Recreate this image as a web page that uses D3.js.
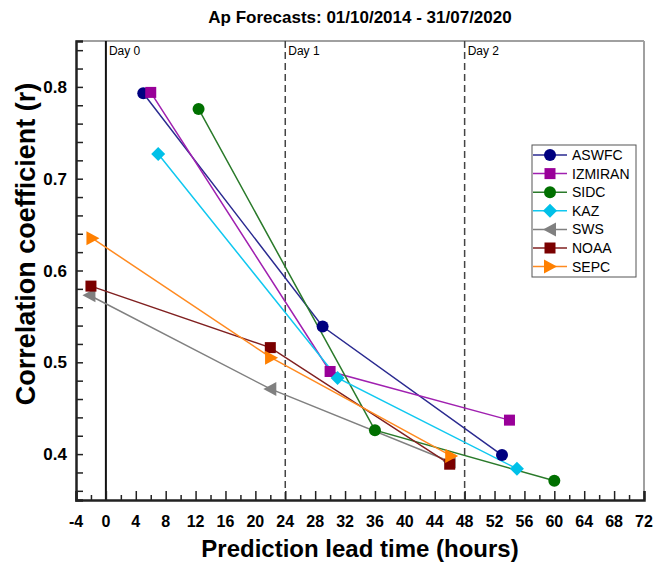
<!DOCTYPE html>
<html>
<head>
<meta charset="utf-8">
<script src="https://cdn.jsdelivr.net/npm/d3@7"></script>
<style>
  body { margin: 0; background: #fff; }
  text { font-family: Arial, "Liberation Sans", sans-serif; }
</style>
</head>
<body>
<script>
// lead times (hours) and correlation values
let names = ["ASWFC", "IZMIRAN", "SIDC", "KAZ", "SWS", "NOAA", "SEPC"]
let leadAswfc = [5, 29, 53]
let rAswfc = [0.793, 0.539, 0.399]
let leadIzmiran = [6, 30, 54]
let rIzmiran = [0.794, 0.490, 0.437]
let leadSidc = [12.4, 36, 60]
let rSidc = [0.776, 0.426, 0.371]
let leadKaz = [7, 31, 55]
let rKaz = [0.727, 0.483, 0.384]
let leadSws = [-2.2, 22, 46]
let rSws = [0.573, 0.471, 0.392]
let leadNoaa = [-2, 22, 46]
let rNoaa = [0.583, 0.516, 0.389]
let leadSepc = [-1.8, 22.1, 46.2]
let rSepc = [0.635, 0.505, 0.398]

let xTicks = d3.range(-4, 73, 4)
let yTicks = [0.4, 0.5, 0.6, 0.7, 0.8]
let dayLines = [0, 24, 48]
let dayLabels = ["Day 0", "Day 1", "Day 2"]

let colors = ["#000080", "#990099", "#007000", "#00c0e8", "#808080", "#7a0000", "#ff8000"]
let lineColors = ["#2a2a90", "#a020b0", "#2a7a2a", "#10c8f0", "#808080", "#802020", "#ff8a20"]
let shapes = ["circle", "square", "circle", "diamond", "left", "square", "right"]

let leads = [leadAswfc, leadIzmiran, leadSidc, leadKaz, leadSws, leadNoaa, leadSepc]
let rs = [rAswfc, rIzmiran, rSidc, rKaz, rSws, rNoaa, rSepc]

let series = names.map((n, i) => ({
    name: n,
    color: colors[i],
    lineColor: lineColors[i],
    shape: shapes[i],
    points: leads[i].map((h, j) => ({ h: h, r: rs[i][j] }))
}))

let width = 656, height = 564
let margin = { top: 41, right: 12, bottom: 64, left: 76 }

let svg = d3.select("body")
    .append("svg")
    .attr("width", width)
    .attr("height", height)

let x = d3.scaleLinear()
    .domain([-4, 72])
    .range([margin.left, width - margin.right])

let y = d3.scaleLinear()
    .domain([0.35, 0.85])
    .range([height - margin.bottom, margin.top])

// frame: top and right in gray
svg.append("line")
    .attr("x1", x(-4)).attr("x2", x(72))
    .attr("y1", y(0.85)).attr("y2", y(0.85))
    .attr("stroke", "#a0a0a0").attr("stroke-width", 2)
svg.append("line")
    .attr("x1", x(72)).attr("x2", x(72))
    .attr("y1", y(0.85)).attr("y2", y(0.35))
    .attr("stroke", "#a0a0a0").attr("stroke-width", 2)

// day marker lines
svg.selectAll(".day")
    .data(dayLines)
    .enter()
    .append("line")
    .attr("x1", d => x(d)).attr("x2", d => x(d))
    .attr("y1", y(0.85)).attr("y2", y(0.35))
    .attr("stroke", (d, i) => i == 0 ? "#111" : "#444")
    .attr("stroke-width", (d, i) => i == 0 ? 2 : 1.5)
    .attr("stroke-dasharray", (d, i) => i == 0 ? null : "7,4")

svg.selectAll(".daylabel")
    .data(dayLines)
    .enter()
    .append("text")
    .attr("x", d => x(d) + 3)
    .attr("y", y(0.85) + 14)
    .style("font-size", "12px")
    .text((d, i) => dayLabels[i])

// x axis, ticks pointing inwards
let xAxis = d3.axisTop(x)
    .tickValues(xTicks)
    .tickSize(9)
    .tickFormat("")
let xMinor = d3.axisTop(x)
    .tickValues(d3.range(-2, 72, 4))
    .tickSize(5)
    .tickFormat("")

svg.append("g")
    .attr("transform", `translate(0, ${y(0.35)})`)
    .call(xMinor)
    .call(g => g.select(".domain").remove())
    .call(g => g.selectAll("line").attr("stroke", "#222").attr("stroke-width", 1.5))
svg.append("g")
    .attr("transform", `translate(0, ${y(0.35)})`)
    .call(xAxis)
    .call(g => g.select(".domain").attr("stroke", "#222").attr("stroke-width", 2.5))
    .call(g => g.selectAll("line").attr("stroke", "#222").attr("stroke-width", 1.5))

svg.selectAll(".xlab")
    .data(xTicks)
    .enter()
    .append("text")
    .attr("x", d => x(d))
    .attr("y", y(0.35) + 27)
    .attr("text-anchor", "middle")
    .style("font-size", "16px")
    .style("font-weight", "bold")
    .text(d => d)

// y axis, ticks pointing inwards
let yAxis = d3.axisRight(y)
    .tickValues(d3.range(0.36, 0.85, 0.02))
    .tickSize(7)
    .tickFormat("")

svg.append("g")
    .attr("transform", `translate(${x(-4)}, 0)`)
    .call(yAxis)
    .call(g => g.select(".domain").attr("stroke", "#222").attr("stroke-width", 2.5))
    .call(g => g.selectAll("line").attr("stroke", "#222").attr("stroke-width", 1.5))

svg.selectAll(".ylab")
    .data(yTicks)
    .enter()
    .append("text")
    .attr("x", x(-4) - 9)
    .attr("y", d => y(d) + 6)
    .attr("text-anchor", "end")
    .style("font-size", "17px")
    .style("font-weight", "bold")
    .text(d => d.toFixed(1))

// titles
svg.append("text")
    .attr("x", (x(-4) + x(72)) / 2)
    .attr("y", 23)
    .attr("text-anchor", "middle")
    .style("font-size", "17px")
    .style("font-weight", "bold")
    .text("Ap Forecasts: 01/10/2014 - 31/07/2020")

svg.append("text")
    .attr("x", (x(-4) + x(72)) / 2)
    .attr("y", 557)
    .attr("text-anchor", "middle")
    .style("font-size", "24px")
    .style("font-weight", "bold")
    .text("Prediction lead time (hours)")

svg.append("text")
    .attr("transform", `translate(35, 244) rotate(-90)`)
    .attr("text-anchor", "middle")
    .style("font-size", "27px")
    .style("font-weight", "bold")
    .text("Correlation coefficient (r)")

// marker drawing
function marker(g, shape, color, cx, cy) {
    if (shape == "circle") {
        g.append("circle").attr("cx", cx).attr("cy", cy).attr("r", 6).attr("fill", color)
    } else if (shape == "square") {
        g.append("rect").attr("x", cx - 5.5).attr("y", cy - 5.5)
            .attr("width", 11).attr("height", 11).attr("fill", color)
    } else if (shape == "diamond") {
        g.append("path").attr("d", `M${cx},${cy - 7}L${cx + 7},${cy}L${cx},${cy + 7}L${cx - 7},${cy}Z`)
            .attr("fill", color)
    } else if (shape == "left") {
        g.append("path").attr("d", `M${cx - 7},${cy}L${cx + 6},${cy - 7}L${cx + 6},${cy + 7}Z`)
            .attr("fill", color)
    } else {
        g.append("path").attr("d", `M${cx + 7},${cy}L${cx - 6},${cy - 7}L${cx - 6},${cy + 7}Z`)
            .attr("fill", color)
    }
}

let line = d3.line()
    .x(d => x(d.h))
    .y(d => y(d.r))

series.forEach(s => {
    svg.append("path")
        .datum(s.points)
        .attr("d", line)
        .attr("fill", "none")
        .attr("stroke", s.lineColor)
        .attr("stroke-width", 1.5)
})

series.forEach(s => {
    let g = svg.append("g")
    s.points.forEach(p => marker(g, s.shape, s.color, x(p.h), y(p.r)))
})

// legend
let legend = svg.append("g")
    .attr("transform", "translate(532, 145)")

legend.append("rect")
    .attr("width", 104)
    .attr("height", 132)
    .attr("fill", "#fff")
    .attr("stroke", "#555")
    .attr("stroke-width", 1)

series.forEach((s, i) => {
    let ly = 10 + i * 18.6
    legend.append("line")
        .attr("x1", 1).attr("x2", 35)
        .attr("y1", ly).attr("y2", ly)
        .attr("stroke", s.lineColor)
        .attr("stroke-width", 1.5)
    marker(legend, s.shape, s.color, 18, ly)
    legend.append("text")
        .attr("x", 40)
        .attr("y", ly + 5)
        .style("font-size", "14px")
        .text(s.name)
})
</script>
</body>
</html>
